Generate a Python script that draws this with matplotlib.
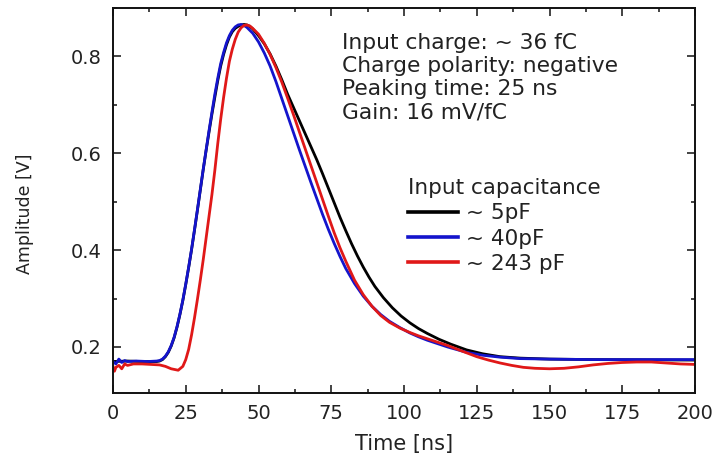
import matplotlib
matplotlib.use('Agg')
import matplotlib.pyplot as plt
from matplotlib.ticker import MultipleLocator

# values: time [ns] and amplitude [V]
t_5pf = [0, 5, 10, 15, 16, 17, 18, 19, 20, 21, 22, 23, 24, 25, 26, 27, 28, 29, 30, 31, 32, 33, 34, 35,
         36, 37, 38, 39, 40, 41, 42, 43, 44, 45, 46, 47, 48, 50, 52, 54, 56, 58, 60, 62, 64, 66, 68, 70,
         72, 74, 76, 78, 80, 82, 84, 86, 88, 90, 92.9, 96, 99, 102, 105, 108, 112, 116, 121.5, 127, 133,
         140, 150, 165, 200]
v_5pf = [0.170, 0.171, 0.170, 0.170, 0.171, 0.174, 0.180, 0.189, 0.202, 0.219, 0.241, 0.267, 0.296, 0.329,
         0.364, 0.401, 0.441, 0.482, 0.524, 0.566, 0.606, 0.644, 0.681, 0.716, 0.750, 0.780, 0.804, 0.824,
         0.840, 0.851, 0.858, 0.862, 0.865, 0.866, 0.865, 0.862, 0.857, 0.843, 0.826, 0.805, 0.780, 0.752,
         0.722, 0.695, 0.668, 0.641, 0.614, 0.587, 0.558, 0.528, 0.498, 0.468, 0.440, 0.413, 0.388, 0.365,
         0.344, 0.325, 0.302, 0.281, 0.264, 0.250, 0.238, 0.228, 0.216, 0.206, 0.194, 0.186, 0.180, 0.177,
         0.175, 0.174, 0.173]

t_40pf = [0, 1, 2, 3, 4, 5, 8, 12, 15, 16, 17, 18, 19, 20, 21, 22, 23, 24, 25, 26, 27, 28, 29, 30, 31,
          32, 33, 34, 35, 36, 37, 38, 39, 40, 41, 42, 43, 44, 45, 46, 48, 50, 52, 54, 56, 58, 60, 62, 64,
          66, 68, 70, 72, 74, 76, 78, 80, 83, 86, 89, 92, 95, 98.6, 102, 105, 108, 111, 115, 121.5, 127,
          133, 140, 150, 165, 200]
v_40pf = [0.170, 0.165, 0.175, 0.168, 0.172, 0.170, 0.171, 0.170, 0.171, 0.172, 0.175, 0.181, 0.190, 0.203,
          0.220, 0.242, 0.268, 0.297, 0.330, 0.365, 0.402, 0.442, 0.483, 0.525, 0.567, 0.607, 0.647, 0.685,
          0.722, 0.755, 0.785, 0.808, 0.828, 0.843, 0.854, 0.861, 0.865, 0.866, 0.864, 0.860, 0.848, 0.830,
          0.807, 0.780, 0.748, 0.713, 0.678, 0.643, 0.608, 0.574, 0.540, 0.507, 0.474, 0.443, 0.414, 0.387,
          0.362, 0.331, 0.305, 0.284, 0.267, 0.253, 0.240, 0.229, 0.221, 0.214, 0.208, 0.200, 0.189, 0.183,
          0.179, 0.176, 0.175, 0.174, 0.174]

t_243pf = [0, 0.5, 1, 2, 3, 4, 5, 7, 10, 13, 16, 18, 20, 22.4, 24, 25, 26, 27, 28, 29, 30, 31, 32, 33, 34,
           35, 36, 37, 38, 39, 40, 41, 42, 43, 44, 45, 46, 47, 48, 50, 52, 54, 56, 58, 60, 62, 64, 66, 68,
           70, 72, 74, 76, 78, 80, 83, 86, 89, 92, 95, 98.6, 102, 105, 108, 111, 115, 118, 121.5, 125, 129,
           133, 137, 141, 145, 150, 155, 160, 165, 170, 175, 180, 185, 190, 195, 200]
v_243pf = [0.160, 0.150, 0.158, 0.162, 0.155, 0.165, 0.162, 0.165, 0.165, 0.164, 0.163, 0.160, 0.155, 0.152,
           0.160, 0.174, 0.195, 0.225, 0.260, 0.298, 0.338, 0.380, 0.425, 0.470, 0.515, 0.565, 0.620, 0.670,
           0.715, 0.755, 0.790, 0.815, 0.835, 0.850, 0.859, 0.864, 0.865, 0.863, 0.858, 0.846, 0.827, 0.804,
           0.777, 0.747, 0.714, 0.680, 0.645, 0.610, 0.575, 0.540, 0.505, 0.470, 0.436, 0.405, 0.377, 0.338,
           0.308, 0.284, 0.265, 0.251, 0.239, 0.230, 0.223, 0.217, 0.211, 0.203, 0.196, 0.188, 0.180, 0.173,
           0.167, 0.162, 0.158, 0.156, 0.155, 0.156, 0.159, 0.163, 0.166, 0.168, 0.169, 0.169, 0.167, 0.165,
           0.164]

labels = ['~ 5pF', '~ 40pF', '~ 243 pF']
colors = ['black', '#1414cc', '#e01818']
info = ['Input charge: ~ 36 fC', 'Charge polarity: negative', 'Peaking time: 25 ns', 'Gain: 16 mV/fC']

txt = '#222222'
plt.rcParams['font.family'] = ['DejaVu Sans']

fig = plt.figure(figsize=(7.16, 4.59), dpi=100)
ax = fig.add_axes([113 / 716, 1 - 393 / 459, 582 / 716, 385 / 459])

series = [(t_5pf, v_5pf), (t_40pf, v_40pf), (t_243pf, v_243pf)]
for (t, v), lab, c in zip(series, labels, colors):
    ax.plot(t, v, color=c, lw=2.0, label=lab, solid_joinstyle='round')

ax.set_xlim(0, 200)
ax.set_ylim(0.105, 0.90)
ax.xaxis.set_major_locator(MultipleLocator(25))
ax.xaxis.set_minor_locator(MultipleLocator(12.5))
ax.yaxis.set_major_locator(MultipleLocator(0.2))
ax.yaxis.set_minor_locator(MultipleLocator(0.1))
ax.tick_params(which='both', direction='in', top=True, right=True, width=1.1, color='#111111')
ax.tick_params(which='major', length=6, pad=8, labelsize=14, labelcolor=txt)
ax.tick_params(which='minor', length=3)
for s in ax.spines.values():
    s.set_linewidth(1.4)
    s.set_color('#111111')

ax.set_xlabel('Time [ns]', fontsize=15, color=txt, labelpad=8)
ax.set_ylabel('Amplitude [V]', fontsize=12.5, color=txt)
ax.yaxis.set_label_coords(-0.136, 0.465)

ax.text(0.393, 0.935, '\n'.join(info), transform=ax.transAxes, fontsize=15.7, color=txt,
        va='top', ha='left', linespacing=1.2)

leg = ax.legend(title='Input capacitance', loc='upper left', bbox_to_anchor=(0.507, 0.558),
                frameon=False, fontsize=15.5, title_fontsize=15.5, alignment='left',
                handlelength=2.3, handletextpad=0.4, labelspacing=0.24, borderaxespad=0,
                borderpad=0)
for h in leg.get_lines():
    h.set_linewidth(2.6)
for tx in leg.get_texts():
    tx.set_color(txt)
leg.get_title().set_color(txt)

fig.savefig('out.png', dpi=100)
